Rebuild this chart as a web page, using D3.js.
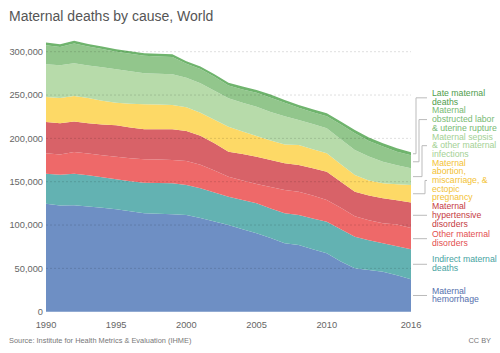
<!DOCTYPE html>
<html lang="en">
<head>
  <meta charset="UTF-8">
  <title>Maternal deaths by cause, World</title>
  <script src="https://d3js.org/d3.v7.min.js"></script>
  <style>
    body { margin: 0; background: #fff; font-family: "Liberation Sans", Arial, sans-serif; }
    .tick-label { font-size: 9.3px; fill: #666; }
    .label { font-size: 8.7px; }
  </style>
</head>
<body>
  <svg width="500" height="353"></svg>

  <script>
    const years = d3.range(1990, 2017);

    // deaths per cause, stacked bottom to top
    const hemorrhage = [124700, 122500, 122800, 121500, 120000, 118200, 116000, 113600, 113000, 112400,
      111600, 108000, 104000, 100100, 95000, 90500, 85000, 79000, 77000, 72000,
      67400, 58000, 50100, 48000, 46200, 42000, 37400];
    const indirect = [34600, 35500, 36500, 36000, 35000, 34600, 34500, 35300, 35500, 35800,
      34600, 34500, 33500, 32600, 34000, 34600, 34000, 34600, 34600, 35500,
      36500, 37000, 36500, 34500, 32800, 33500, 34600];
    const otherMaternal = [23500, 23500, 25000, 25000, 25500, 26100, 26500, 27000, 27000, 26900,
      27800, 27000, 25500, 23100, 22500, 22300, 25000, 26900, 26900, 26500,
      25000, 25000, 23400, 23000, 23000, 25000, 24500];
    const hypertensive = [36200, 36000, 35100, 35000, 35500, 36200, 35500, 34600, 35000, 35400,
      34500, 33500, 31500, 28900, 30500, 31500, 31000, 30800, 30800, 31500,
      32700, 30000, 28500, 28500, 28900, 28000, 29500];
    const abortion = [28800, 29000, 29600, 29000, 27500, 26100, 27500, 28900, 28500, 28100,
      27500, 26500, 27000, 28800, 26000, 23900, 22500, 21700, 23100, 22000,
      21200, 20000, 19300, 17500, 17200, 18500, 20200];
    const sepsis = [37800, 38000, 37700, 37500, 38500, 38600, 37500, 35800, 35500, 35400,
      34000, 34000, 33500, 32800, 33000, 33800, 33000, 32500, 28900, 29000,
      28900, 29000, 28800, 27500, 24900, 22000, 19300];
    const obstructed = [21900, 21000, 22800, 22000, 21000, 20200, 20000, 20100, 20000, 20000,
      16000, 16500, 16000, 14700, 15500, 15900, 16500, 15500, 13900, 13500,
      13800, 17000, 19400, 18000, 17500, 15500, 15000];
    const lateMaternal = [3000, 3100, 3000, 3000, 3000, 2900, 3000, 3000, 3000, 3100,
      3000, 3000, 3000, 3300, 3300, 3400, 3500, 3400, 3400, 3500,
      3500, 3500, 3700, 4000, 3900, 4000, 3500];

    const causes = [
      {key: "hemorrhage", values: hemorrhage, fill: "#6e8fc4", text: "#5470ad", lines: ["Maternal", "hemorrhage"]},
      {key: "indirect", values: indirect, fill: "#63b2b2", text: "#46a3a1", lines: ["Indirect maternal", "deaths"]},
      {key: "other", values: otherMaternal, fill: "#ee6969", text: "#e34f4f", lines: ["Other maternal", "disorders"]},
      {key: "hypertensive", values: hypertensive, fill: "#d86268", text: "#c53b3f", lines: ["Maternal", "hypertensive", "disorders"]},
      {key: "abortion", values: abortion, fill: "#fdd966", text: "#f3c233", lines: ["Maternal", "abortion,", "miscarriage, &", "ectopic", "pregnancy"]},
      {key: "sepsis", values: sepsis, fill: "#b7dbaa", text: "#a3d194", lines: ["Maternal sepsis", "& other maternal", "infections"]},
      {key: "obstructed", values: obstructed, fill: "#92c68c", text: "#77ba73", lines: ["Maternal", "obstructed labor", "& uterine rupture"]},
      {key: "late", values: lateMaternal, fill: "#6fb46d", text: "#4e9d4c", lines: ["Late maternal", "deaths"]}
    ];

    const yTicks = [0, 50000, 100000, 150000, 200000, 250000, 300000];
    const xTicks = [1990, 1995, 2000, 2005, 2010, 2016];

    const svg = d3.select("svg");
    const x = d3.scaleLinear().domain([1990, 2016]).range([46, 411]);
    const y = d3.scaleLinear().domain([0, 300000]).range([311.7, 51.7]);

    const rows = years.map((yr, i) => {
      const r = {year: yr};
      causes.forEach(c => r[c.key] = c.values[i]);
      return r;
    });
    const stacked = d3.stack().keys(causes.map(c => c.key))(rows);

    // title
    svg.append("text").attr("x", 9).attr("y", 21)
      .style("font-size", "14px").style("fill", "#555")
      .text("Maternal deaths by cause, World");

    // areas
    const area = d3.area()
      .x(d => x(d.data.year))
      .y0(d => y(d[0]))
      .y1(d => y(d[1]));

    svg.append("g").selectAll("path")
      .data(stacked)
      .join("path")
      .attr("fill", (d, i) => causes[i].fill)
      .attr("d", area);

    // grid lines over the areas
    svg.append("g").selectAll("line")
      .data(yTicks.filter(t => t > 0))
      .join("line")
      .attr("x1", 46).attr("x2", 411)
      .attr("y1", d => y(d)).attr("y2", d => y(d))
      .attr("stroke", "#000").attr("stroke-opacity", 0.13)
      .attr("stroke-dasharray", "2,2");

    // y axis labels
    svg.append("g").selectAll("text")
      .data(yTicks)
      .join("text")
      .attr("class", "tick-label")
      .attr("x", 43).attr("y", d => y(d))
      .attr("dy", "0.35em")
      .attr("text-anchor", "end")
      .text(d => d3.format(",")(d));

    // x axis labels
    svg.append("g").selectAll("text")
      .data(xTicks)
      .join("text")
      .attr("class", "tick-label")
      .attr("x", d => x(d)).attr("y", 328)
      .attr("text-anchor", "middle")
      .text(d => d);

    // labels at the right, pushed up from the bottom so they don't overlap
    const lineH = 8.7;
    const n = years.length - 1;
    const labels = causes.map((c, i) => {
      const s = stacked[i][n];
      const mid = y((s[0] + s[1]) / 2);
      const h = c.lines.length * lineH;
      return {c, mid, h, top: mid - h / 2};
    });
    let limit = Infinity;
    labels.forEach(l => {
      if (l.top + l.h > limit) l.top = limit - l.h;
      limit = l.top;
      l.center = l.top + l.h / 2;
      l.shift = l.mid - l.center;
    });

    const moved = labels.filter(l => Math.abs(l.shift) > 1)
      .sort((a, b) => b.shift - a.shift);
    moved.forEach((l, i) => l.elbow = 416 + i * 3);

    const lbl = svg.append("g");
    labels.forEach(l => {
      const path = l.elbow
        ? `M413,${l.mid}H${l.elbow}V${l.center}H427`
        : `M413,${l.mid}H427`;
      lbl.append("path").attr("d", path)
        .attr("fill", "none").attr("stroke", "#bbb").attr("stroke-width", 1);
      const t = lbl.append("text").attr("class", "label").style("fill", l.c.text);
      l.c.lines.forEach((ln, j) => {
        t.append("tspan").attr("x", 432).attr("y", l.top + (j + 1) * lineH - 1.8).text(ln);
      });
    });

    // footer
    svg.append("text").attr("x", 9).attr("y", 343)
      .style("font-size", "7.4px").style("fill", "#777")
      .text("Source: Institute for Health Metrics & Evaluation (IHME)");
    svg.append("text").attr("x", 491).attr("y", 343)
      .attr("text-anchor", "end")
      .style("font-size", "7.4px").style("fill", "#777")
      .text("CC BY");
  </script>
</body>
</html>
